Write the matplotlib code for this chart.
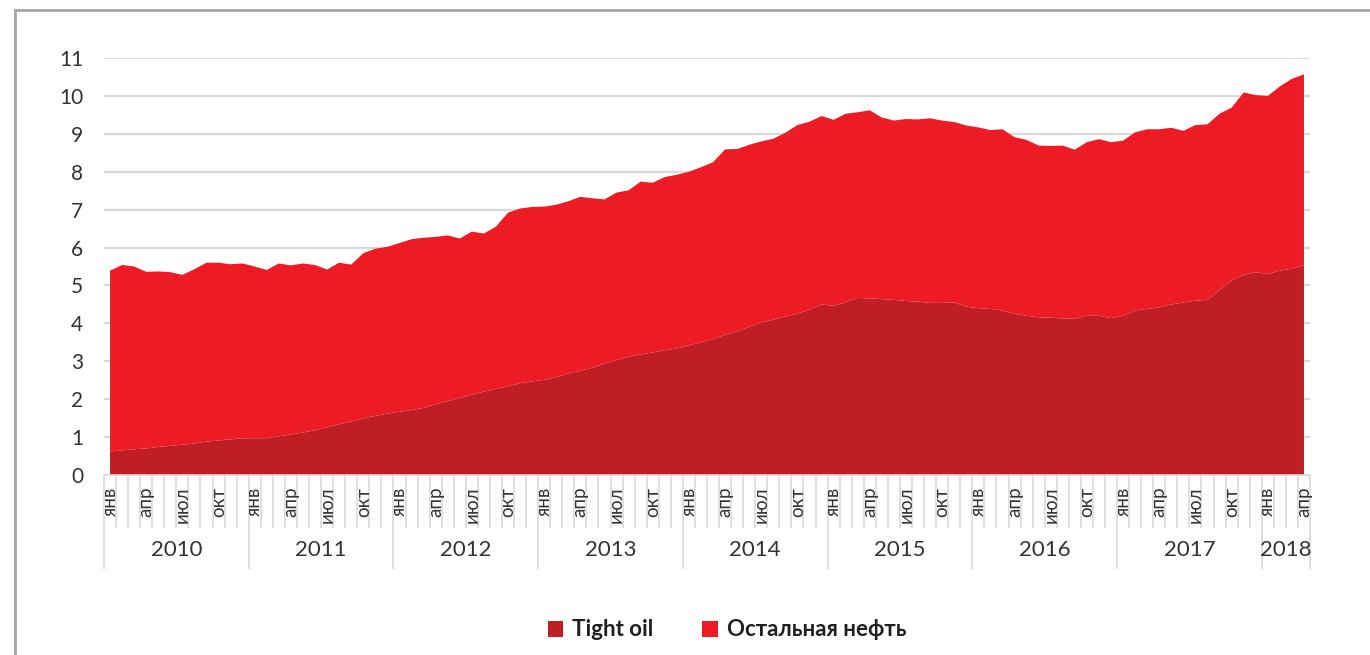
import matplotlib
matplotlib.use("Agg")
import matplotlib.pyplot as plt
from matplotlib.lines import Line2D
from matplotlib.patches import Patch

plt.rcParams['font.family'] = ['Lato', 'Open Sans', 'DejaVu Sans']

years = ["2010", "2011", "2012", "2013", "2014", "2015", "2016", "2017", "2018"]
months_per_year = [12, 12, 12, 12, 12, 12, 12, 12, 4]
month_names = ["янв", "фев", "мар", "апр", "май", "июн",
               "июл", "авг", "сен", "окт", "ноя", "дек"]
shown_months = ["янв", "апр", "июл", "окт"]

tight_oil = [
    0.62, 0.65, 0.68, 0.70, 0.74, 0.77, 0.80, 0.83, 0.88, 0.91, 0.94, 0.97,
    0.97, 0.97, 1.02, 1.07, 1.12, 1.18, 1.26, 1.34, 1.41, 1.49, 1.56, 1.62,
    1.67, 1.71, 1.77, 1.87, 1.95, 2.03, 2.12, 2.20, 2.27, 2.34, 2.42, 2.47,
    2.51, 2.58, 2.68, 2.75, 2.83, 2.94, 3.03, 3.12, 3.18, 3.23, 3.29, 3.34,
    3.42, 3.50, 3.58, 3.70, 3.79, 3.91, 4.02, 4.10, 4.18, 4.26, 4.36, 4.50,
    4.46, 4.56, 4.67, 4.66, 4.64, 4.62, 4.59, 4.57, 4.54, 4.54, 4.55, 4.44,
    4.40, 4.38, 4.34, 4.25, 4.20, 4.16, 4.15, 4.13, 4.12, 4.20, 4.20, 4.14,
    4.20, 4.34, 4.38, 4.42, 4.50, 4.55, 4.60, 4.62, 4.88, 5.13, 5.28, 5.35,
    5.30, 5.39, 5.44, 5.54,
]
other_oil = [
    4.77, 4.89, 4.82, 4.66, 4.63, 4.58, 4.48, 4.60, 4.72, 4.69, 4.62, 4.61,
    4.53, 4.44, 4.56, 4.46, 4.46, 4.36, 4.16, 4.26, 4.14, 4.36, 4.41, 4.40,
    4.45, 4.51, 4.49, 4.41, 4.37, 4.21, 4.30, 4.17, 4.28, 4.58, 4.61, 4.60,
    4.57, 4.55, 4.54, 4.59, 4.47, 4.33, 4.42, 4.39, 4.56, 4.48, 4.57, 4.58,
    4.58, 4.62, 4.67, 4.89, 4.81, 4.80, 4.78, 4.77, 4.85, 4.97, 4.96, 4.97,
    4.91, 4.97, 4.90, 4.96, 4.79, 4.73, 4.80, 4.81, 4.87, 4.81, 4.76, 4.78,
    4.77, 4.72, 4.78, 4.66, 4.64, 4.53, 4.53, 4.56, 4.46, 4.58, 4.66, 4.64,
    4.62, 4.70, 4.74, 4.70, 4.66, 4.53, 4.63, 4.63, 4.65, 4.56, 4.81, 4.67,
    4.70, 4.86, 5.01, 5.03,
]
series_names = ["Tight oil", "Остальная нефть"]
colors = ["#BE1E24", "#ED1C24"]

n = len(tight_oil)
x = list(range(n))

fig = plt.figure(figsize=(13.7, 6.55), dpi=100)
W, H = 1370, 655
ax = fig.add_axes([104 / W, 1 - 475 / H, 1206 / W, 417 / H])

ax.stackplot(x, tight_oil, other_oil, colors=colors, linewidth=0)
ax.set_xlim(-0.5, n - 0.5)
ax.set_ylim(0, 11)
ax.set_yticks(range(0, 12))
ax.grid(axis='y', color='#D9D9D9', linewidth=1.6)
ax.set_axisbelow(True)
for s in ['top', 'right', 'left']:
    ax.spines[s].set_visible(False)
ax.spines['bottom'].set_color('#D9D9D9')
ax.spines['bottom'].set_linewidth(1.2)
ax.tick_params(axis='y', length=0, pad=15, labelsize=15, labelcolor='#333333')

# category tick marks
boundaries = [i - 0.5 for i in range(n + 1)]
year_bounds = [-0.5]
for m in months_per_year:
    year_bounds.append(year_bounds[-1] + m)
ax.set_xticks(year_bounds)
ax.set_xticks(boundaries, minor=True)
ax.tick_params(axis='x', which='major', length=68, width=1.2, color='#D9D9D9',
               labelbottom=False)
ax.tick_params(axis='x', which='minor', length=38, width=1.2, color='#D9D9D9')

# month labels
xt = ax.get_xaxis_transform()
idx = 0
for yr, m in zip(years, months_per_year):
    for k in range(m):
        name = month_names[k]
        if name in shown_months:
            ax.text(idx + k, -0.028, name, transform=xt, rotation=90,
                    ha='center', va='top', fontsize=13.5, color='#333333')
    ax.text(idx + (m - 1) / 2, -0.18, yr, transform=xt, ha='center',
            va='center', fontsize=16, color='#333333')
    idx += m

# legend
handles = [Patch(facecolor=c, edgecolor='none') for c in colors]
leg = fig.legend(handles, series_names, loc='center', bbox_to_anchor=(727 / W, 1 - 630 / H),
                 ncol=2, frameon=False, prop={'size': 16, 'weight': 'bold'},
                 handlelength=0.7, handleheight=0.7, handletextpad=0.4,
                 columnspacing=2.2)
for t in leg.get_texts():
    t.set_color('#1F1F1F')

# outer frame (top and left edges visible)
fig.add_artist(Line2D([15 / W, 1.0], [1 - 10 / H, 1 - 10 / H], color='#A6A6A6',
                      linewidth=2, transform=fig.transFigure))
fig.add_artist(Line2D([15 / W, 15 / W], [0, 1 - 10 / H], color='#A6A6A6',
                      linewidth=2, transform=fig.transFigure))

fig.savefig("out.png", dpi=100)
